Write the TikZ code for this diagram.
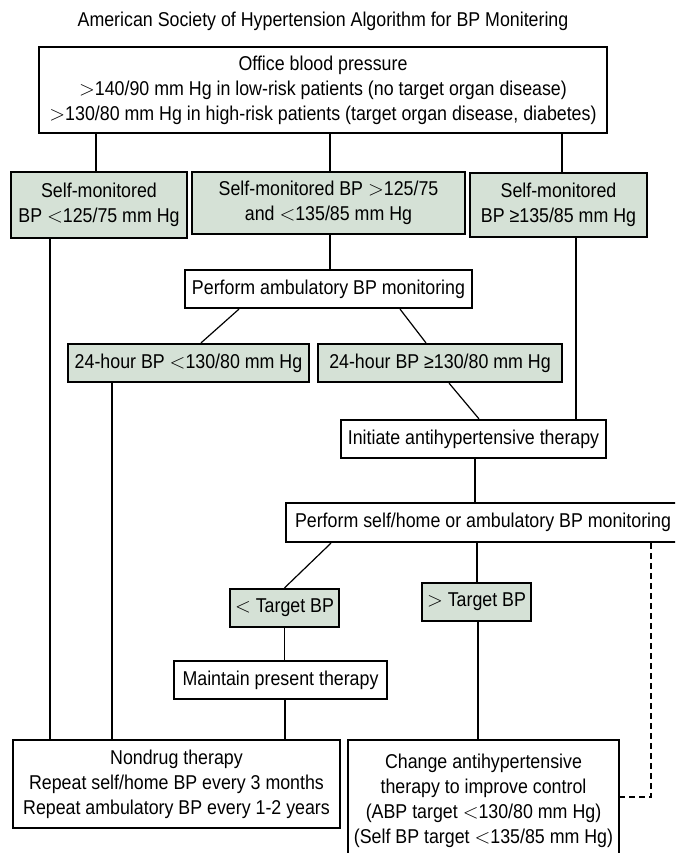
\documentclass[tikz,border=0pt]{standalone}
\usepackage{fontspec}
\setmainfont{Liberation Sans}[FakeStretch=0.89]
\definecolor{boxgreen}{RGB}{213,225,214}
\newcommand{\boxfont}{\fontsize{20}{25}\selectfont}
\begin{document}
\begin{tikzpicture}[x=1pt,y=-1pt,
  stepbox/.style={draw, line width=2.2pt, fill=white, inner sep=0pt, align=center, font=\boxfont},
  greenbox/.style={stepbox, fill=boxgreen},
  link/.style={line width=1.2pt},
  dashlink/.style={line width=1.2pt, dash pattern=on 6pt off 4pt}]
\useasboundingbox (0,0) rectangle (675,853);
\clip (0,0) rectangle (675,853);
\fill[white] (0,0) rectangle (675,853);

% title
\node[font=\boxfont] (title) at (323,21) {American Society of Hypertension Algorithm for BP Monitering};

% boxes
\node[stepbox, minimum width=568pt, minimum height=86pt] (office) at (323,90)
  {Office blood pressure\\
   $>$140/90 mm Hg in low-risk patients (no target organ disease)\\
   $>$130/80 mm Hg in high-risk patients (target organ disease, diabetes)};
\node[greenbox, minimum width=176pt, minimum height=66pt] (selflow) at (99,205)
  {Self-monitored\\BP $<$125/75 mm Hg};
\node[greenbox, minimum width=273pt, minimum height=62pt] (selfmid) at (328.5,203)
  {Self-monitored BP $>$125/75\\and $<$135/85 mm Hg};
\node[greenbox, minimum width=177pt, minimum height=64pt] (selfhigh) at (558.5,205)
  {Self-monitored\\BP ≥135/85 mm Hg};
\node[stepbox, minimum width=287pt, minimum height=38pt] (abpm) at (328.5,289)
  {Perform ambulatory BP monitoring};
\node[greenbox, minimum width=241pt, minimum height=38pt] (daylow) at (188.5,363)
  {24-hour BP $<$130/80 mm Hg};
\node[greenbox, minimum width=244pt, minimum height=38pt] (dayhigh) at (440,363)
  {24-hour BP ≥130/80 mm Hg};
\node[stepbox, minimum width=265pt, minimum height=38pt] (initiate) at (473.5,439)
  {Initiate antihypertensive therapy};
\node[stepbox, minimum width=394pt, minimum height=39pt] (perform) at (483,522.5)
  {Perform self/home or ambulatory BP monitoring};
\node[greenbox, minimum width=109pt, minimum height=38pt] (below) at (284.5,608)
  {$<$ Target BP};
\node[greenbox, minimum width=109pt, minimum height=38pt] (above) at (476.5,602)
  {$>$ Target BP};
\node[stepbox, minimum width=213pt, minimum height=38pt] (maintain) at (280.5,680)
  {Maintain present therapy};
\node[stepbox, minimum width=327pt, minimum height=88pt] (nondrug) at (176.5,784)
  {Nondrug therapy\\Repeat self/home BP every 3 months\\Repeat ambulatory BP every 1-2 years};
\node[stepbox, minimum width=271pt, minimum height=122pt] (change) at (483.5,801)
  {Change antihypertensive\\therapy to improve control\\(ABP target $<$130/80 mm Hg)\\(Self BP target $<$135/85 mm Hg)};

% connectors
\draw[link] ([xshift=-3pt]selflow.north) -- ([xshift=-3pt]selflow.north |- office.south);
\draw[link] ([xshift=1.5pt]selfmid.north) -- ([xshift=1.5pt]selfmid.north |- office.south);
\draw[link] ([xshift=3.5pt]selfhigh.north) -- ([xshift=3.5pt]selfhigh.north |- office.south);
\draw[link] ([xshift=-49pt]selflow.south) -- ([xshift=-49pt]selflow.south |- nondrug.north);
\draw[link] ([xshift=1.5pt]selfmid.south) -- ([xshift=1.5pt]selfmid.south |- abpm.north);
\draw[link] ([xshift=17.5pt]selfhigh.south) -- ([xshift=17.5pt]selfhigh.south |- initiate.north);
\draw[link] ([xshift=-89.5pt]abpm.south) -- ([xshift=12.5pt]daylow.north);
\draw[link] ([xshift=71.5pt]abpm.south) -- ([xshift=-14pt]dayhigh.north);
\draw[link] ([xshift=-76.5pt]daylow.south) -- ([xshift=-76.5pt]daylow.south |- nondrug.north);
\draw[link] ([xshift=9pt]dayhigh.south) -- ([xshift=5.5pt]initiate.north);
\draw[link] ([xshift=1.5pt]initiate.south) -- ([xshift=1.5pt]initiate.south |- perform.north);
\draw[link] ([xshift=-152pt]perform.south) -- (below.north);
\draw[link] ([xshift=0.5pt]above.north) -- ([xshift=0.5pt]above.north |- perform.south);
\draw[link] (below.south) -- (below.south |- maintain.north);
\draw[link] ([xshift=4.5pt]maintain.south) -- ([xshift=4.5pt]maintain.south |- nondrug.north);
\draw[link] ([xshift=1.5pt]above.south) -- ([xshift=1.5pt]above.south |- change.north);
\draw[dashlink] ([xshift=168pt]perform.south) |- ([yshift=4pt]change.east);
\end{tikzpicture}
\end{document}
